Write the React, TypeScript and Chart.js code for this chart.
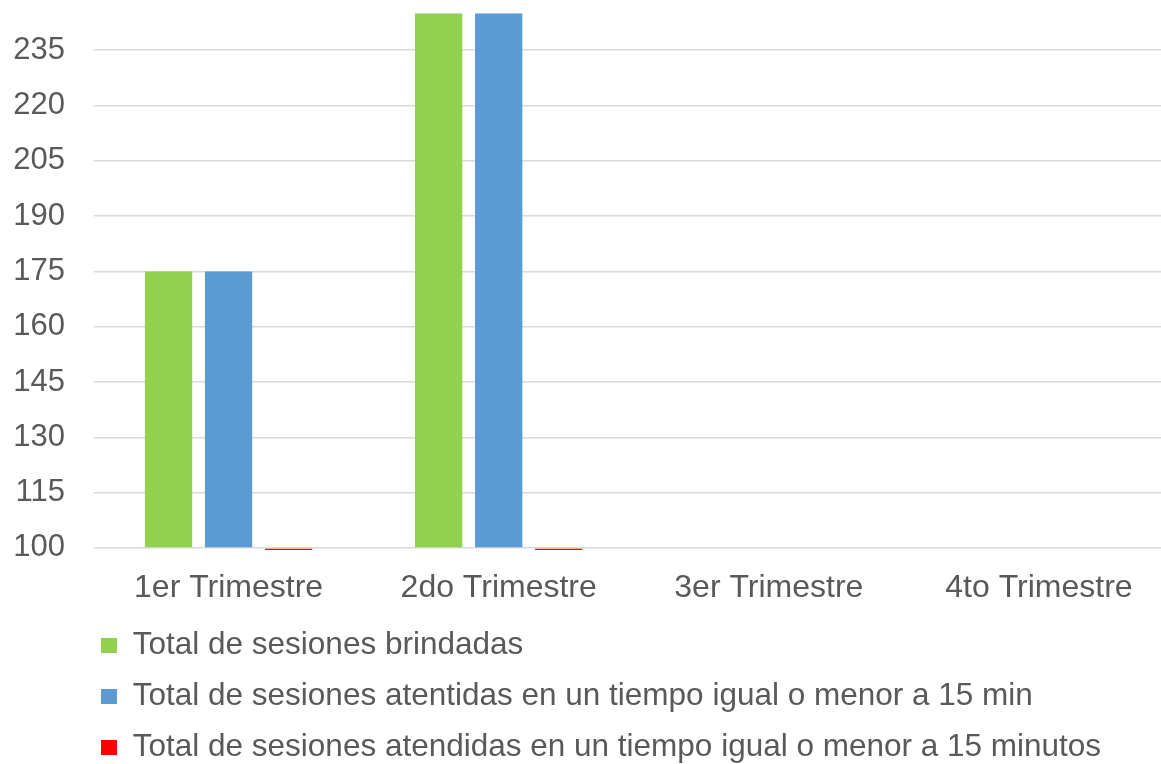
import React, { useEffect, useRef } from "react";
import { Chart, registerables } from "chart.js";

Chart.register(...registerables);

const categories = ["1er Trimestre", "2do Trimestre", "3er Trimestre", "4to Trimestre"];
const seriesLabels = [
  "Total de sesiones brindadas",
  "Total de sesiones atentidas en un tiempo igual o menor a 15 min",
  "Total de sesiones atendidas en un tiempo igual o menor a 15 minutos",
];
const sesionesBrindadas = [175, 245, null, null];
const sesionesAtentidas15min = [175, 245, null, null];
const sesionesAtendidas15minutos = [0, 0, null, null];
const seriesColors = ["#92D050", "#5B9BD5", "#FF0000"];
const yMin = 100;
const yMax = 245;
const yStep = 15;

const FONT = "'Liberation Sans', Arial, sans-serif";
const TEXT = "#595959";

const legendShift = {
  id: "legendShift",
  beforeDraw(chart: any) {
    if (chart.legend) {
      chart.legend.left = 81.5;
    }
  },
};

export default function App() {
  const ref = useRef<HTMLCanvasElement | null>(null);

  useEffect(() => {
    if (!ref.current) return;
    const chart = new Chart(ref.current, {
      type: "bar",
      data: {
        labels: categories,
        datasets: [
          { label: seriesLabels[0], data: sesionesBrindadas, backgroundColor: seriesColors[0], borderWidth: 0, base: yMin },
          { label: seriesLabels[1], data: sesionesAtentidas15min, backgroundColor: seriesColors[1], borderWidth: 0, base: yMin },
          {
            label: seriesLabels[2],
            data: sesionesAtendidas15minutos,
            backgroundColor: seriesColors[2],
            borderWidth: 0,
            base: yMin,
            clip: { left: 0, top: 0, right: 0, bottom: 2 },
          },
        ] as any,
      },
      options: {
        responsive: false,
        animation: false,
        events: [],
        layout: { padding: { top: 13.3, left: 0, right: 0, bottom: 0 } },
        datasets: {
          bar: { categoryPercentage: 0.6667, barPercentage: 0.788 },
        },
        plugins: {
          tooltip: { enabled: false },
          legend: {
            position: "bottom",
            align: "start",
            maxHeight: 153.75,
            labels: {
              boxWidth: 16,
              boxHeight: 15,
              padding: 19.5,
              color: TEXT,
              font: { family: FONT, size: 31.5 },
            },
          },
        },
        scales: {
          x: {
            grid: { display: false },
            border: { display: false },
            ticks: {
              color: TEXT,
              font: { family: FONT, size: 32 },
              padding: 13,
              maxRotation: 0,
              autoSkip: false,
            },
            afterFit: (s: any) => {
              s.height = 62.3;
              s.paddingLeft = 0;
              s.paddingRight = 0;
            },
          },
          y: {
            min: yMin,
            max: yMax,
            bounds: "data",
            grid: { color: "#D9D9D9", lineWidth: 1.5, drawTicks: false },
            border: { display: false },
            ticks: {
              stepSize: yStep,
              autoSkip: false,
              color: TEXT,
              font: { family: FONT, size: 31 },
              padding: 28.5,
            },
            afterBuildTicks: (s: any) => {
              s.ticks = s.ticks.filter((t: any) => {
                const k = (t.value - yMin) / yStep;
                return Math.abs(k - Math.round(k)) < 1e-6;
              });
            },
            afterFit: (s: any) => {
              s.width = 93.5;
              s.paddingTop = 0;
              s.paddingBottom = 0;
            },
          },
        },
      } as any,
      plugins: [legendShift],
    });
    return () => chart.destroy();
  }, []);

  return (
    <div
      style={{
        position: "fixed",
        left: 0,
        top: 0,
        width: 1161,
        height: 764,
        overflow: "hidden",
        background: "#fff",
      }}
    >
      <canvas ref={ref} width={1174} height={764} style={{ display: "block" }} />
    </div>
  );
}
